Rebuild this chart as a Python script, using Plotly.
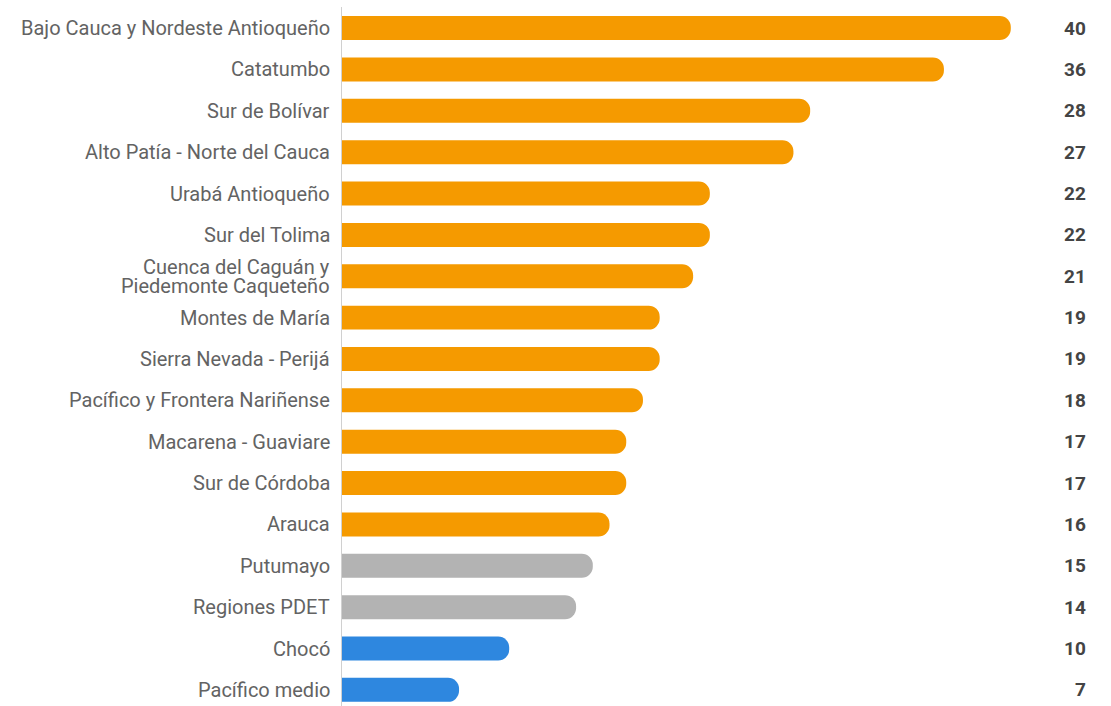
import plotly.graph_objects as go

regiones = [
    "Bajo Cauca y Nordeste Antioqueño",
    "Catatumbo",
    "Sur de Bolívar",
    "Alto Patía - Norte del Cauca",
    "Urabá Antioqueño",
    "Sur del Tolima",
    "Cuenca del Caguán y\nPiedemonte Caqueteño",
    "Montes de María",
    "Sierra Nevada - Perijá",
    "Pacífico y Frontera Nariñense",
    "Macarena - Guaviare",
    "Sur de Córdoba",
    "Arauca",
    "Putumayo",
    "Regiones PDET",
    "Chocó",
    "Pacífico medio",
]
valores = [40, 36, 28, 27, 22, 22, 21, 19, 19, 18, 17, 17, 16, 15, 14, 10, 7]
grupos = ["alto"] * 13 + ["medio"] * 2 + ["bajo"] * 2

colores_grupo = {"alto": "#F59A00", "medio": "#B3B3B3", "bajo": "#2E87DF"}
colores = [colores_grupo[g] for g in grupos]

W, H = 1111, 706
ML, MR, MT, MB = 342, 11, 7, 0
plot_w = W - ML - MR
px_por_unidad = 16.72
x_max = plot_w / px_por_unidad

fig = go.Figure()
fig.add_trace(go.Bar(
    y=list(range(len(regiones))),
    x=valores,
    orientation="h",
    marker=dict(color=colores, cornerradius=12, line=dict(width=0)),
    hoverinfo="skip",
))

annotations = []
paso = 19  # separación entre líneas de una etiqueta de dos renglones
for i, (nombre, v) in enumerate(zip(regiones, valores)):
    lineas = nombre.split("\n")
    n = len(lineas)
    for k, linea in enumerate(lineas):
        annotations.append(dict(
            x=0, xref="paper", xanchor="right", xshift=-11,
            y=i, yref="y", yanchor="middle",
            yshift=(n - 1) * paso / 2 - k * paso,
            text=linea, showarrow=False, borderpad=0,
            font=dict(family="Roboto, Arial, sans-serif", size=20, color="#636363"),
        ))
    annotations.append(dict(
        x=1, xref="paper", xanchor="right", xshift=-12,
        y=i, yref="y", yanchor="middle",
        text=f"<b>{v}</b>", showarrow=False,
        font=dict(family="Roboto, Arial, sans-serif", size=19, color="#444444"),
    ))

fig.update_layout(
    width=W, height=H,
    margin=dict(l=ML, r=MR, t=MT, b=MB),
    paper_bgcolor="white", plot_bgcolor="white",
    bargap=0.42,
    showlegend=False,
    annotations=annotations,
    xaxis=dict(range=[0, x_max], visible=False, fixedrange=True),
    yaxis=dict(
        range=[16.39, -0.51],
        showticklabels=False, ticks="", showgrid=False, zeroline=False,
        showline=True, linecolor="#D0D0D0", linewidth=1, fixedrange=True,
    ),
)

fig.write_html("out.html")
